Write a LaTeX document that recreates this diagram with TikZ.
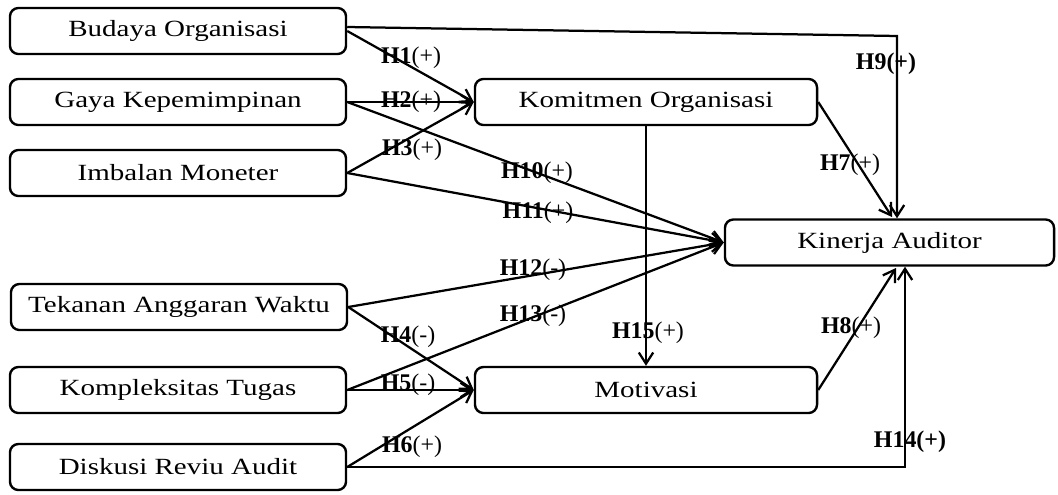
\documentclass[tikz,border=0pt]{standalone}
\usepackage{fontspec}
\setmainfont{Liberation Serif}
\newfontfamily\boxfont[FakeStretch=1.25]{Liberation Serif}
\usetikzlibrary{arrows.meta, calc}

\begin{document}
\begin{tikzpicture}[x=0.025cm, y=-0.025cm,
  var/.style={draw, rounded corners=6pt, line width=1.7pt, minimum height=1.15cm,
    inner sep=0pt, font=\boxfont\fontsize{16.5}{19}\selectfont},
  hyp/.style={inner sep=0pt, font=\fontsize{17}{19}\selectfont},
  link/.style={line width=1.6pt, -{Straight Barb[length=2.8mm, width=3.6mm]}}]
  \useasboundingbox (0,0) rectangle (1058,494);

  % ── Independent variables ──────────────────────────────────────────
  \node[var, minimum width=8.4cm] (bud) at (178,31)  {Budaya Organisasi};
  \node[var, minimum width=8.4cm] (gay) at (178,102) {Gaya Kepemimpinan};
  \node[var, minimum width=8.4cm] (imb) at (178,173) {Imbalan Moneter};
  \node[var, minimum width=8.4cm] (tek) at (179,307) {Tekanan Anggaran Waktu};
  \node[var, minimum width=8.4cm] (kmp) at (178,390) {Kompleksitas Tugas};
  \node[var, minimum width=8.4cm] (dis) at (178,467) {Diskusi Reviu Audit};

  % ── Intervening and dependent variables ───────────────────────────
  \node[var, minimum width=8.55cm]  (kom) at (646,102)   {Komitmen Organisasi};
  \node[var, minimum width=8.55cm]  (mot) at (646,390)   {Motivasi};
  \node[var, minimum width=8.225cm] (kin) at (889.5,242.5) {Kinerja Auditor};

  \coordinate (h9c)  at (897,36);
  \coordinate (h14c) at (905,469);
  \coordinate (h7e)  at (892,217);
  \coordinate (h8e)  at (896,268);

  % ── Hypotheses ────────────────────────────────────────────────────
  \draw[link] (bud.east) -- (kom.west);
  \draw[link] (gay.east) -- (kom.west);
  \draw[link] (imb.east) -- (kom.west);
  \draw[link] (tek.east) -- (mot.west);
  \draw[link] (kmp.east) -- (mot.west);
  \draw[link] (dis.east) -- (mot.west);
  \draw[link] (kom.east) -- (h7e);
  \draw[link] (mot.east) -- (h8e);
  \draw[link] ($(bud.east)+(0,-4)$) -- (h9c) -- (h9c |- kin.north);
  \draw[link] (gay.east) -- (kin.west);
  \draw[link] (imb.east) -- (kin.west);
  \draw[link] (tek.east) -- (kin.west);
  \draw[link] (kmp.east) -- (kin.west);
  \draw[link] (dis.east) -- (dis.east -| h14c) -- (h14c |- kin.south);
  \draw[link] (kom.south) -- (mot.north);

  \node[hyp] (l1)  at (411,58)  {\textbf{H1}(+)};
  \node[hyp] (l2)  at (411,102) {\textbf{H2}(+)};
  \node[hyp] (l3)  at (412,150) {\textbf{H3}(+)};
  \node[hyp] (l4)  at (408,337) {\textbf{H4}(-)};
  \node[hyp] (l5)  at (408,385) {\textbf{H5}(-)};
  \node[hyp] (l6)  at (412,447) {\textbf{H6}(+)};
  \node[hyp] (l7)  at (850,165) {\textbf{H7}(+)};
  \node[hyp] (l8)  at (851,328) {\textbf{H8}(+)};
  \node[hyp] (l9)  at (886,64)  {\textbf{H9(+)}};
  \node[hyp] (l10) at (537,173) {\textbf{H10}(+)};
  \node[hyp] (l11) at (538,213) {\textbf{H11}(+)};
  \node[hyp] (l12) at (533,270) {\textbf{H12}(-)};
  \node[hyp] (l13) at (533,316) {\textbf{H13}(-)};
  \node[hyp] (l14) at (910,442) {\textbf{H14(+)}};
  \node[hyp] (l15) at (648,333) {\textbf{H15}(+)};
\end{tikzpicture}
\end{document}
